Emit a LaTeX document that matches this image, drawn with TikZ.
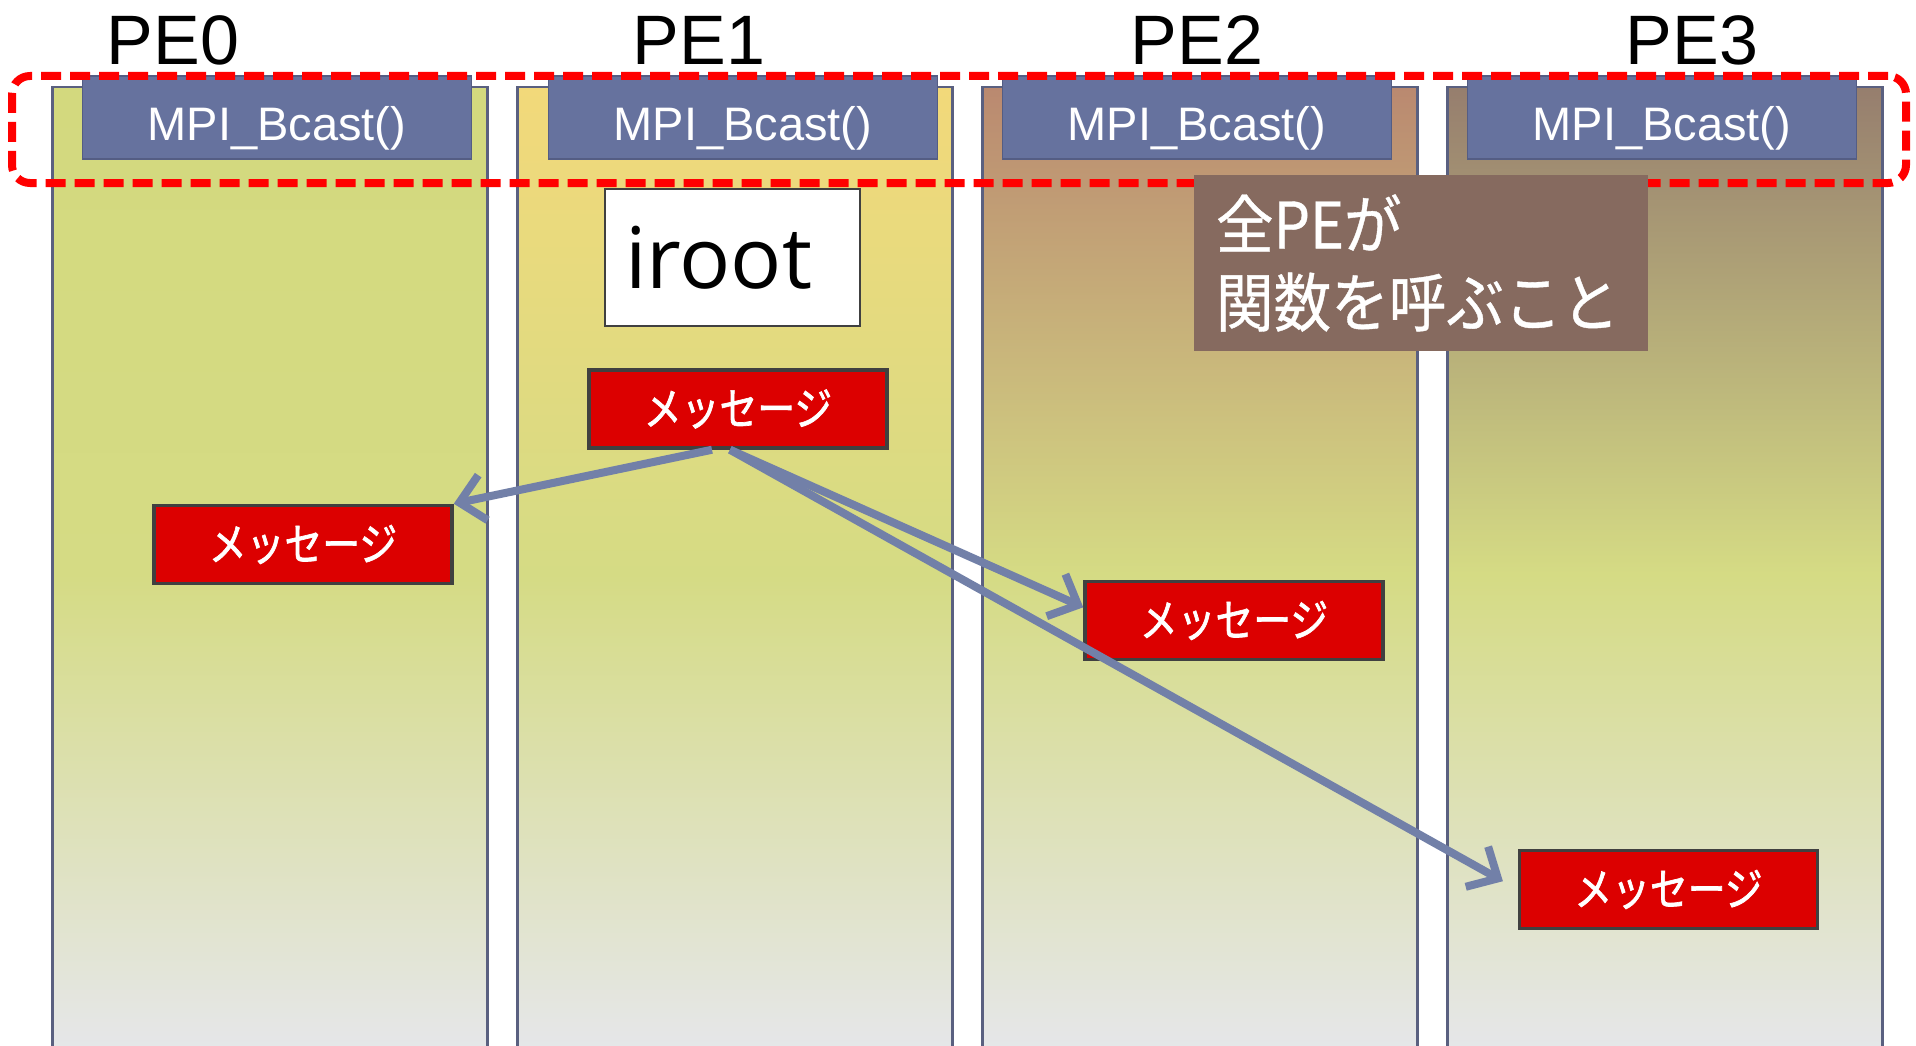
\documentclass[tikz,border=0pt]{standalone}
\usepackage{fontspec}
\setmainfont{Liberation Sans}
\newfontfamily\jpfont[FakeStretch=0.9,FakeBold=0.6]{Noto Sans CJK JP}
\newfontfamily\msgfont[FakeStretch=0.84,FakeBold=1.5]{Noto Sans CJK JP}
\newfontfamily\irootfont{Open Sans}
\usetikzlibrary{arrows.meta}
\definecolor{peedge}{HTML}{5A6080}
\definecolor{pemid}{HTML}{D5DB84}
\definecolor{pebottom}{HTML}{E6E7EC}
\definecolor{pezero}{HTML}{D3D97E}
\definecolor{peone}{HTML}{F2D97A}
\definecolor{petwo}{HTML}{BA8970}
\definecolor{pethree}{HTML}{967E6E}
\definecolor{bcastfill}{HTML}{66729E}
\definecolor{bcastedge}{HTML}{545D84}
\definecolor{msgred}{HTML}{DC0000}
\definecolor{msgedge}{HTML}{404040}
\definecolor{notebrown}{HTML}{866A5F}
\definecolor{arrowblue}{HTML}{7280A8}
\begin{document}
\begin{tikzpicture}[x=1pt, y=-1pt,
pe col/.style={rectangle,draw=peedge,line width=2.5pt,minimum width=435pt,minimum height=974pt,anchor=north,inner sep=0pt},
bcast/.style={rectangle,fill=bcastfill,draw=bcastedge,line width=1.5pt,minimum width=389pt,minimum height=83pt,text height=45pt,text depth=0pt,text=white,font=\fontsize{47}{50}\selectfont},
msg/.style={rectangle,fill=msgred,draw=msgedge,line width=3.5pt,minimum width=298pt,minimum height=78pt,text=white,font=\msgfont\fontsize{45}{48}\selectfont},
pe label/.style={font=\fontsize{70}{80}\selectfont},
bcast arrow/.style={color=arrowblue,line width=8pt,-{Straight Barb[length=24pt,width=46pt]}}]
\useasboundingbox (0,0) rectangle (1916,1046);
\node [pe col,top color=pezero,bottom color=pebottom,middle color=pemid](c0) at (270,86) {};
\node [pe col,top color=peone,bottom color=pebottom,middle color=pemid](c1) at (735,86) {};
\node [pe col,top color=petwo,bottom color=pebottom,middle color=pemid](c2) at (1200,86) {};
\node [pe col,top color=pethree,bottom color=pebottom,middle color=pemid](c3) at (1665,86) {};
\begin{scope}[every node/.style={pe label}]
\node (l0) at (173,40) {PE0};
\node (l1) at (699,40) {PE1};
\node (l2) at (1197,40) {PE2};
\node (l3) at (1692,40) {PE3};
\end{scope}
\node [bcast](b0) at (277,117.5) {MPI\_Bcast()};
\node [bcast](b1) at (743,117.5) {MPI\_Bcast()};
\node [bcast](b2) at (1197,117.5) {MPI\_Bcast()};
\node [bcast](b3) at (1662,117.5) {MPI\_Bcast()};
\node [draw=red,line width=8pt,dash pattern=on 20pt off 9pt,rounded corners=18pt,minimum width=1894pt,minimum height=107pt](callall) at (959,129.5) {};
\node [draw=msgedge,fill=white,line width=2pt,minimum width=255pt,minimum height=137pt,inner xsep=20pt,text width=215pt,align=left,font=\irootfont\fontsize{85}{90}\selectfont](iroot) at (732.5,257.5) {iroot};
\node [fill=notebrown,minimum width=454pt,minimum height=176pt,inner xsep=22pt,text width=410pt,align=left,text=white,font=\jpfont\fontsize{64}{78}\selectfont](allpe) at (1421,263) {全PEが\\関数を呼ぶこと};
\node [msg](m1) at (738,409) {メッセージ};
\node [msg](m0) at (303,544.5) {メッセージ};
\node [msg](m2) at (1234,620.5) {メッセージ};
\node [msg](m3) at (1668.5,889.5) {メッセージ};
\path [bcast arrow]
	([xshift=-26pt]m1.south) edge (m0.north east)
	([xshift=-8pt]m1.south) edge (m2.175)
	([xshift=-8pt]m1.south) edge [shorten >=17pt] (m3.west)
	;
\end{tikzpicture}
\end{document}
